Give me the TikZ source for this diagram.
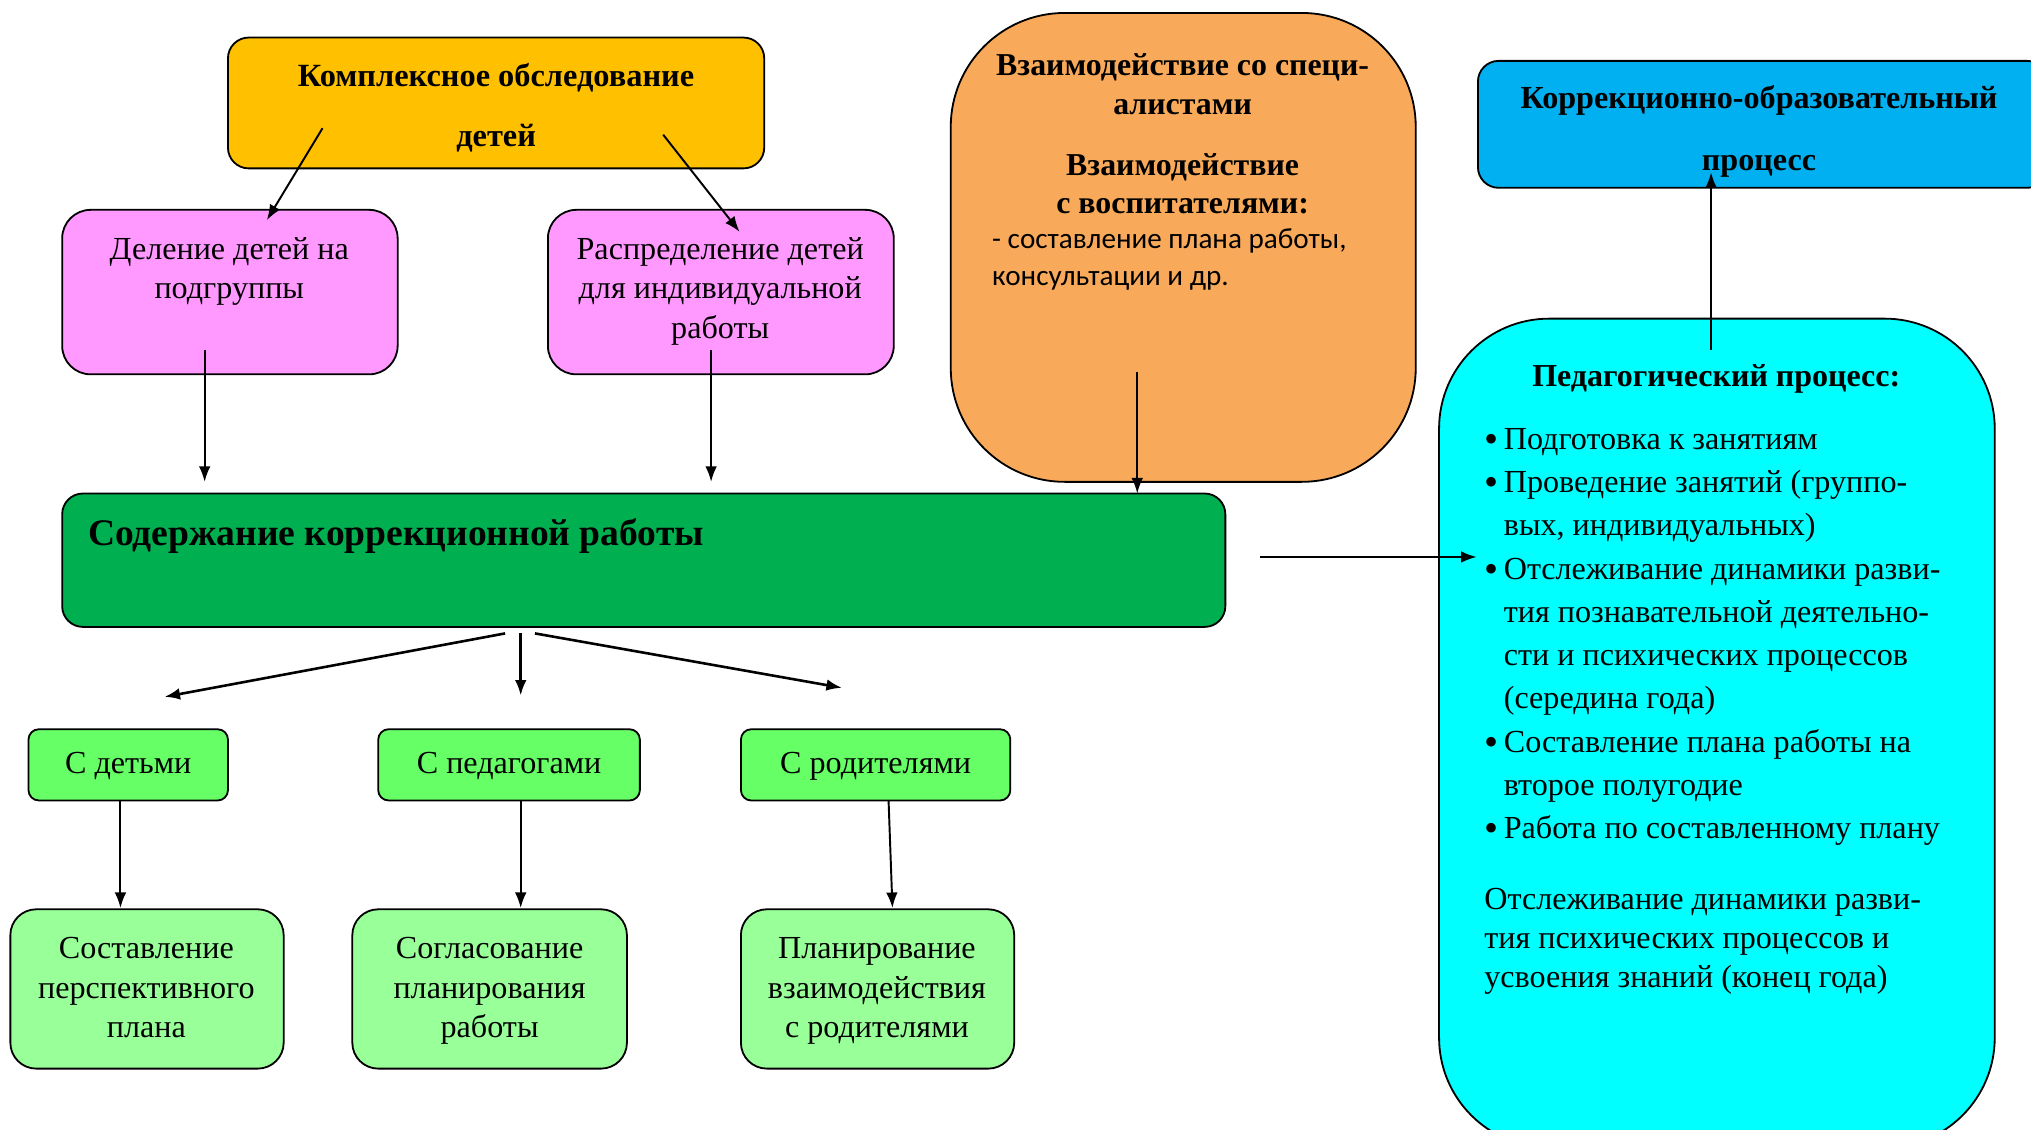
\documentclass[tikz,border=0pt]{standalone}
\usepackage{fontspec}
\setmainfont{Liberation Serif}
\newfontfamily\carl{Carlito}
\usetikzlibrary{arrows.meta}
\definecolor{cYel}{HTML}{FFC000}
\definecolor{cPink}{HTML}{FF99FF}
\definecolor{cOr}{HTML}{F8AA5A}
\definecolor{cGr}{HTML}{00B050}
\definecolor{cBlue}{HTML}{00B0F0}
\definecolor{cCyan}{HTML}{00FFFF}
\definecolor{cSg}{HTML}{66FF66}
\definecolor{cLg}{HTML}{99FF99}
\newcommand{\bul}{\makebox[15pt][l]{\raisebox{-2.5pt}{\scalebox{1.25}{•}}}}
\begin{document}
\begin{tikzpicture}[x=1pt,y=-1pt,
  box/.style={draw=black,line width=1.4pt,inner sep=0pt,outer sep=0pt},
  txt/.style={inner sep=0pt,outer sep=0pt,anchor=base,align=center},
  ltxt/.style={inner sep=0pt,outer sep=0pt,anchor=base west,align=left},
  fR/.style={font=\fontsize{24.8}{30.5}\selectfont},
  arr/.style={line width=1.5pt,-{Latex[length=12pt,width=9pt]}}]
\useasboundingbox (0,0) rectangle (1568,872);
% boxes
\node[box,fill=cYel,rounded corners=16pt,minimum width=414pt,minimum height=101pt] (yel) at (383,79.5) {};
\node[box,fill=cPink,rounded corners=22pt,minimum width=259pt,minimum height=127pt] (pk1) at (177.5,225.5) {};
\node[box,fill=cPink,rounded corners=22pt,minimum width=267pt,minimum height=127pt] (pk2) at (556.5,225.5) {};
\node[box,fill=cOr,rounded corners=88pt,minimum width=359pt,minimum height=362pt] (org) at (913.5,191) {};
\node[box,fill=cGr,rounded corners=16pt,minimum width=898pt,minimum height=103pt] (main) at (497,432.5) {};
\node[box,fill=cBlue,rounded corners=16pt,minimum width=440pt,minimum height=98pt] (blue) at (1361,96) {};
\node[box,fill=cCyan,rounded corners=85pt,minimum width=429pt,minimum height=640pt] (cyan) at (1325.5,566) {};
\node[box,fill=cSg,rounded corners=8pt,minimum width=154pt,minimum height=55pt] (s1) at (99,590.5) {};
\node[box,fill=cSg,rounded corners=8pt,minimum width=202pt,minimum height=55pt] (s2) at (393,590.5) {};
\node[box,fill=cSg,rounded corners=8pt,minimum width=208pt,minimum height=55pt] (s3) at (676,590.5) {};
\node[box,fill=cLg,rounded corners=20pt,minimum width=211pt,minimum height=123pt] (l1) at (113.5,763.5) {};
\node[box,fill=cLg,rounded corners=20pt,minimum width=212pt,minimum height=123pt] (l2) at (378,763.5) {};
\node[box,fill=cLg,rounded corners=20pt,minimum width=211pt,minimum height=123pt] (l3) at (677.5,763.5) {};
% texts (anchor = baseline of the last line)
\node[txt,font=\fontsize{25}{46}\selectfont\bfseries] (tyel) at (383,113) {Комплексное обследование\\детей};
\node[txt,fR] (tpk1) at (177,230.5) {Деление детей на\\подгруппы};
\node[txt,fR] (tpk2) at (556,261) {Распределение детей\\для индивидуальной\\работы};
\node[txt,font=\fontsize{24.6}{30}\selectfont\bfseries] (torg1) at (913,88.5) {Взаимодействие со специ-\\алистами};
\node[txt,font=\fontsize{24.6}{29}\selectfont\bfseries] (torg2) at (913,164.5) {Взаимодействие\\с воспитателями:};
\node[ltxt,font=\carl\fontsize{22.5}{29}\selectfont] (torg3) at (766,220.5) {- составление плана работы,\\консультации и др.};
\node[ltxt,font=\fontsize{29}{34}\selectfont\bfseries] (tmain) at (68,421.5) {Содержание коррекционной работы};
\node[txt,font=\fontsize{24.8}{48}\selectfont\bfseries] (tblue) at (1358,131.5) {Коррекционно-образовательный\\процесс};
\node[txt,font=\fontsize{24.7}{30}\selectfont\bfseries] (tcy) at (1325,298.5) {Педагогический процесс:};
\node[ltxt,font=\fontsize{24.8}{33.4}\selectfont] (tcyl) at (1146,647.5) {%
\bul Подготовка к занятиям\\
\bul Проведение занятий (группо-\\
\hspace*{15pt}вых, индивидуальных)\\
\bul Отслеживание динамики разви-\\
\hspace*{15pt}тия познавательной деятельно-\\
\hspace*{15pt}сти и психических процессов\\
\hspace*{15pt}(середина года)\\
\bul Составление плана работы на\\
\hspace*{15pt}второе полугодие\\
\bul Работа по составленному плану};
\node[ltxt,font=\fontsize{24.8}{30}\selectfont] (tcyp) at (1146,762) {Отслеживание динамики разви-\\тия психических процессов и\\усвоения знаний (конец года)};
\node[txt,fR] (ts1) at (99,597.5) {С детьми};
\node[txt,fR] (ts2) at (393,597.5) {С педагогами};
\node[txt,fR] (ts3) at (676,597.5) {С родителями};
\node[txt,fR] (tl1) at (113,801) {Составление\\перспективного\\плана};
\node[txt,fR] (tl2) at (378,801) {Согласование\\планирования\\работы};
\node[txt,fR] (tl3) at (677,801) {Планирование\\взаимодействия\\с родителями};
% connector end points
\coordinate (a1s) at (249,99); \coordinate (a1e) at (206,170);
\coordinate (a2s) at (512,104); \coordinate (a2e) at (571,179);
\coordinate (a3s) at (158,270); \coordinate (a3e) at (158,372);
\coordinate (a4s) at (549,270); \coordinate (a4e) at (549,372);
\coordinate (a5s) at (878,287); \coordinate (a5e) at (878,381);
\coordinate (a6s) at (973,430); \coordinate (a6e) at (1140,430);
\coordinate (a7s) at (1321,270); \coordinate (a7e) at (1321,133);
\coordinate (b1s) at (390,489); \coordinate (b1e) at (127,538);
\coordinate (b2s) at (402,489); \coordinate (b2e) at (402,537);
\coordinate (b3s) at (413,489); \coordinate (b3e) at (650,531);
\coordinate (c1s) at (93,618); \coordinate (c1e) at (93,701);
\coordinate (c2s) at (402,618); \coordinate (c2e) at (402,701);
\coordinate (c3s) at (686,618); \coordinate (c3e) at (689,701);
\draw[arr] (a1s) -- (a1e);
\draw[arr] (a2s) -- (a2e);
\draw[arr] (a3s) -- (a3e);
\draw[arr] (a4s) -- (a4e);
\draw[arr] (a5s) -- (a5e);
\draw[arr] (a6s) -- (a6e);
\draw[arr] (a7s) -- (a7e);
\draw[arr,line width=2pt] (b1s) -- (b1e);
\draw[arr,line width=2pt] (b2s) -- (b2e);
\draw[arr,line width=2pt] (b3s) -- (b3e);
\draw[arr] (c1s) -- (c1e);
\draw[arr] (c2s) -- (c2e);
\draw[arr] (c3s) -- (c3e);
\end{tikzpicture}
\end{document}
